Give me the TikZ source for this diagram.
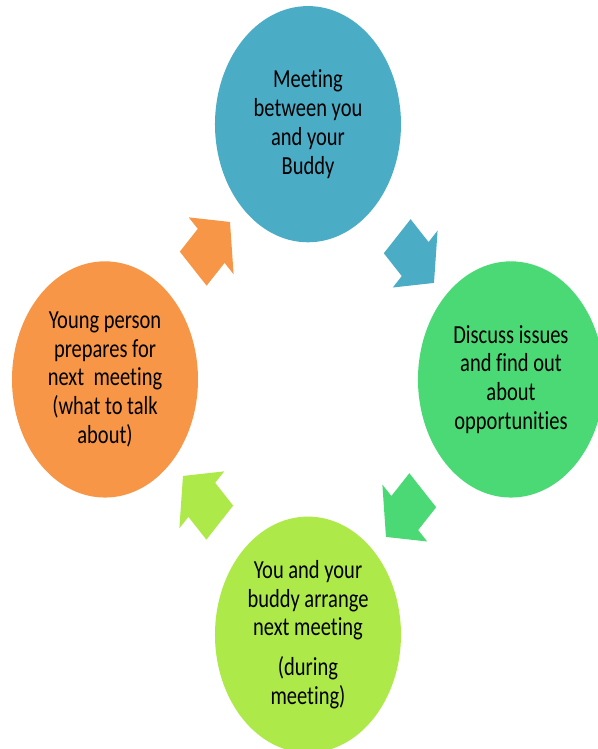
\documentclass[tikz,border=0pt]{standalone}
\usepackage{fontspec}
\setmainfont[Ligatures={NoCommon}]{Carlito}
\usetikzlibrary{shapes.arrows,shapes.geometric}
\definecolor{meetblue}{HTML}{4BACC6}
\definecolor{discussgreen}{HTML}{4AD975}
\definecolor{arrangelime}{HTML}{ADE948}
\definecolor{prepareorange}{HTML}{F79646}

\begin{document}
\begin{tikzpicture}[x=1pt,y=1pt,yscale=1.27,transform shape,
					every node/.style={inner sep=0pt, outer sep=0pt},
					stage/.style={circle, minimum size=186pt, align=center, text=black,
						font=\fontsize{20.5}{22.6}\selectfont},
					turn/.style={single arrow, inner xsep=0pt, inner ysep=18.75pt, minimum height=52pt,
						single arrow head extend=12.75pt, single arrow tip angle=100}]
	\useasboundingbox (0,0) rectangle (598,589.8);
	\coordinate (hub) at (308,291);
	% the four stages
	\node[stage, fill=meetblue] (meet) at (308,492) {Meeting\\between you\\and your\\Buddy};
	\node[stage, fill=discussgreen] (discuss) at (511,291) {Discuss issues\\and find out\\about\\opportunities};
	\node[stage, fill=arrangelime] (arrange) at (308,90) {You and your\\buddy arrange\\next meeting\\[9pt](during\\meeting)};
	\node[stage, fill=prepareorange] (prepare) at (105,291) {Young person\\prepares for\\next\ \ meeting\\(what to talk\\about)};
	% arrows between them
	\node[turn, fill=meetblue, rotate=-45] (meet-discuss) at (410,391) {};
	\node[turn, fill=discussgreen, rotate=-135] (discuss-arrange) at (410,191) {};
	\node[turn, fill=arrangelime, rotate=135] (arrange-prepare) at (207,191) {};
	\node[turn, fill=prepareorange, rotate=45] (prepare-meet) at (206,391) {};
\end{tikzpicture}
\end{document}
